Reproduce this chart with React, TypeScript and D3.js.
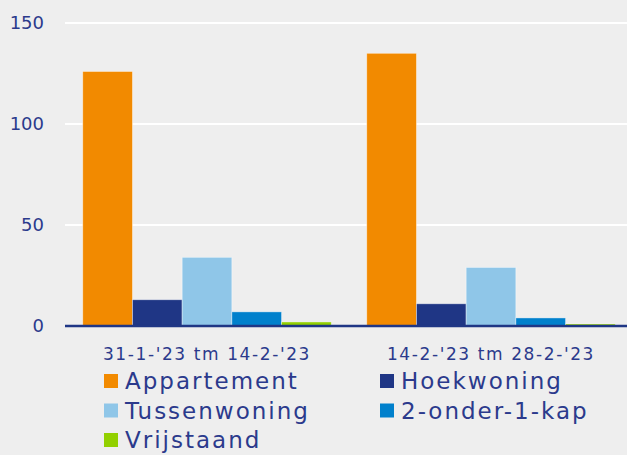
import React, { useRef, useEffect } from "react";
import * as d3 from "d3";

const periods = ["31-1-'23 tm 14-2-'23", "14-2-'23 tm 28-2-'23"];
const types = ["Appartement", "Hoekwoning", "Tussenwoning", "2-onder-1-kap", "Vrijstaand"];
const appartement = [126, 135];
const hoekwoning = [13, 11];
const tussenwoning = [34, 29];
const tweeOnderEenKap = [7, 4];
const vrijstaand = [2, 1];
const yTicks = [0, 50, 100, 150];

const colors = ["#f28a00", "#1f3685", "#8fc6e8", "#0080cc", "#92d000"];
const textColor = "#2b3a8c";
const font = "'DejaVu Sans', sans-serif";

const App: React.FC = () => {
  const svgRef = useRef<SVGSVGElement | null>(null);
  const width = 627;
  const height = 455;

  useEffect(() => {
    document.body.style.margin = "0";
    const svg = d3.select(svgRef.current);
    svg.selectAll("*").remove();

    const series = [appartement, hoekwoning, tussenwoning, tweeOnderEenKap, vrijstaand];
    const margin = { top: 23, right: 0, bottom: 129, left: 65 };

    svg.append("rect").attr("width", width).attr("height", height).attr("fill", "#eeeeee");

    const x0 = d3
      .scaleBand()
      .domain(periods)
      .range([margin.left, 633])
      .paddingInner(0.125)
      .paddingOuter(0.0625);

    const x1 = d3
      .scaleBand()
      .domain(types)
      .range([0, x0.bandwidth()]);

    const y = d3
      .scaleLinear()
      .domain([0, 150])
      .range([height - margin.bottom, margin.top]);

    // gridlines
    svg
      .append("g")
      .selectAll("line")
      .data(yTicks.slice(1))
      .enter()
      .append("line")
      .attr("x1", margin.left)
      .attr("x2", width)
      .attr("y1", (d) => y(d))
      .attr("y2", (d) => y(d))
      .attr("stroke", "#ffffff")
      .attr("stroke-width", 2);

    // y labels
    svg
      .append("g")
      .selectAll("text")
      .data(yTicks)
      .enter()
      .append("text")
      .attr("x", 44)
      .attr("y", (d) => y(d))
      .attr("dy", "0.36em")
      .attr("text-anchor", "end")
      .attr("fill", textColor)
      .style("font-family", font)
      .style("font-size", "18px")
      .text((d) => d);

    // bars
    periods.forEach((p, i) => {
      const g = svg.append("g").attr("transform", `translate(${x0(p)},0)`);
      types.forEach((t, j) => {
        const v = series[j][i];
        g.append("rect")
          .attr("x", x1(t)!)
          .attr("y", y(v))
          .attr("width", x1.bandwidth())
          .attr("height", y(0) - y(v))
          .attr("fill", colors[j])
          .attr("stroke", "rgba(255,255,255,0.5)")
          .attr("stroke-width", 0.8);
      });
    });

    // baseline
    svg
      .append("line")
      .attr("x1", margin.left)
      .attr("x2", width)
      .attr("y1", y(0))
      .attr("y2", y(0))
      .attr("stroke", "#1f3685")
      .attr("stroke-width", 2.5);

    // category labels
    svg
      .append("g")
      .selectAll("text")
      .data(periods)
      .enter()
      .append("text")
      .attr("x", (d) => x0(d)! + x0.bandwidth() / 2)
      .attr("y", 360)
      .attr("text-anchor", "middle")
      .attr("fill", textColor)
      .style("font-family", font)
      .style("font-size", "17px")
      .style("letter-spacing", "1.6px")
      .text((d) => d);

    // legend
    const legend = svg.append("g");
    types.forEach((t, j) => {
      const col = j % 2;
      const row = Math.floor(j / 2);
      const lx = col === 0 ? 104 : 380;
      const ly = 381 + row * 29.5;
      legend
        .append("rect")
        .attr("x", lx)
        .attr("y", ly - 7)
        .attr("width", 14)
        .attr("height", 14)
        .attr("fill", colors[j]);
      legend
        .append("text")
        .attr("x", lx + 21)
        .attr("y", ly)
        .attr("dy", "0.36em")
        .attr("fill", textColor)
        .style("font-family", font)
        .style("font-size", "23px")
        .style("letter-spacing", "2px")
        .text(t);
    });
  }, []);

  return <svg ref={svgRef} width={width} height={height} style={{ display: "block" }}></svg>;
};

export default App;
